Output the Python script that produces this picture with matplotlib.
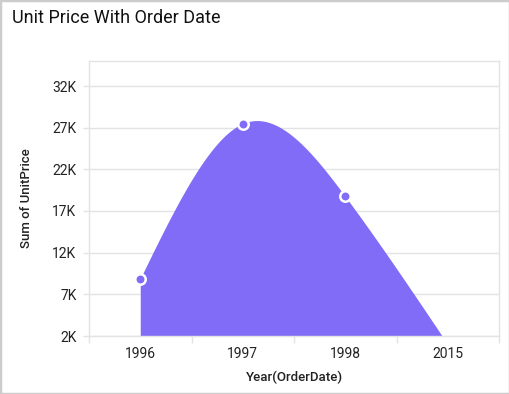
import numpy as np
import matplotlib
matplotlib.use("Agg")
import matplotlib.pyplot as plt
from matplotlib.patches import Rectangle

plt.rcParams['font.family'] = ['Roboto', 'DejaVu Sans']

# data
years = ["1996", "1997", "1998", "2015"]
unit_price = [8880, 27500, 18750, 1000]
y_ticks = [2000, 7000, 12000, 17000, 22000, 27000, 32000]
y_tick_labels = ["2K", "7K", "12K", "17K", "22K", "27K", "32K"]

fill_col = "#806CF7"
grid_col = "#e3e3e3"


def natural_spline(xs, ys, n=400):
    # plain natural cubic spline, no scipy needed
    xs = np.asarray(xs, float)
    ys = np.asarray(ys, float)
    k = len(xs)
    h = np.diff(xs)
    A = np.zeros((k, k))
    b = np.zeros(k)
    A[0, 0] = A[-1, -1] = 1
    for i in range(1, k - 1):
        A[i, i - 1] = h[i - 1]
        A[i, i] = 2 * (h[i - 1] + h[i])
        A[i, i + 1] = h[i]
        b[i] = 6 * ((ys[i + 1] - ys[i]) / h[i] - (ys[i] - ys[i - 1]) / h[i - 1])
    M = np.linalg.solve(A, b)
    xx = np.linspace(xs[0], xs[-1], n)
    idx = np.clip(np.searchsorted(xs, xx) - 1, 0, k - 2)
    x0, x1 = xs[idx], xs[idx + 1]
    hh = x1 - x0
    t0, t1 = x1 - xx, xx - x0
    yy = (M[idx] * t0**3 + M[idx + 1] * t1**3) / (6 * hh) \
        + (ys[idx] / hh - M[idx] * hh / 6) * t0 \
        + (ys[idx + 1] / hh - M[idx + 1] * hh / 6) * t1
    return xx, yy


fig = plt.figure(figsize=(5.10, 3.94), dpi=100)
fig.patches.append(Rectangle((0, 0), 1, 1, transform=fig.transFigure,
                             fill=False, edgecolor="#cccccc", linewidth=2.5))

ax = fig.add_axes([89 / 510, 58 / 394, 410 / 510, 275 / 394])
xpos = np.arange(len(years))
xx, yy = natural_spline(xpos, unit_price)
ax.fill_between(xx, yy, 0, color=fill_col, linewidth=0, zorder=2)
ax.plot(xpos, unit_price, linestyle="none", marker="o", markersize=7.5,
        markerfacecolor=fill_col, markeredgecolor="white", markeredgewidth=1.8,
        zorder=3)

ax.set_xlim(-0.5, len(years) - 0.5)
ax.set_ylim(2000, 35000)
ax.set_yticks(y_ticks)
ax.set_yticklabels(y_tick_labels)
ax.set_xticks(xpos)
ax.set_xticklabels(years)
ax.set_xticks(np.arange(-0.5, len(years)), minor=True)
ax.yaxis.grid(True, color=grid_col, linewidth=1)
ax.set_axisbelow(True)

ax.tick_params(axis="x", which="major", length=0, pad=8, labelsize=10,
               labelcolor="#222222")
ax.tick_params(axis="x", which="minor", length=5, width=1, color=grid_col)
ax.tick_params(axis="y", length=4, width=1, color=grid_col, pad=5,
               labelsize=10, labelcolor="#222222")
for s in ax.spines.values():
    s.set_color(grid_col)
    s.set_linewidth(1)

ax.set_xlabel("Year(OrderDate)", fontsize=9.5, fontweight="medium",
              color="#222222", labelpad=7)
ax.set_ylabel("Sum of UnitPrice", fontsize=9.5, fontweight="medium",
              color="#222222", labelpad=14)

fig.text(12 / 510, 1 - 18 / 394, "Unit Price With Order Date", fontsize=13,
         color="#111111", va="center", ha="left")

fig.savefig("out.png", dpi=100)
